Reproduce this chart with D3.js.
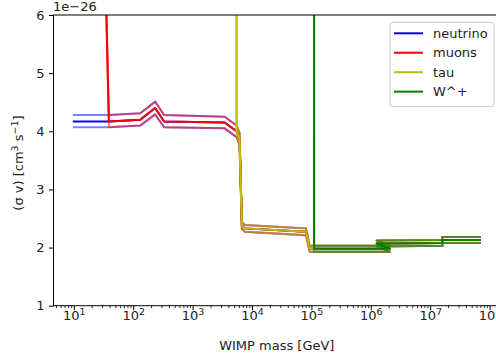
<!DOCTYPE html>
<html><head><meta charset="utf-8">
<script src="https://cdn.jsdelivr.net/npm/d3@7"></script>
<style>body{margin:0;background:#fff} svg{display:block} text{font-family:"DejaVu Sans",sans-serif;fill:#222}</style>
</head><body>
<svg id="c" width="496" height="360"></svg>
<script>
// shared relic cross-section curve (units of 1e-26 cm^3/s), mass in GeV
const massGeV      = [10,   39,   132,  234,  331,  3470, 5010, 5500, 6170, 6760, 7590, 81300, 93300, 111000, 1.26e6, 2.09e6, 1.26e6, 1.62e7, 1.58e7, 6.9e7];
const relicCentral = [4.17, 4.17, 4.20, 4.40, 4.17, 4.15, 4.03, 4.00, 3.87, 2.38, 2.33, 2.27,  1.98,  1.98,   1.98,   1.98,   2.07,   2.08,   2.13,   2.13];
const relicUpper   = [4.28, 4.28, 4.31, 4.51, 4.28, 4.25, 4.13, 4.10, 3.97, 2.44, 2.39, 2.33,  2.03,  2.03,   2.03,   2.03,   2.12,   2.13,   2.18,   2.18];
const relicLower   = [4.07, 4.07, 4.10, 4.29, 4.07, 4.05, 3.93, 3.90, 3.77, 2.32, 2.27, 2.21,  1.93,  1.93,   1.93,   1.93,   2.02,   2.03,   2.08,   2.08];

const channelNames      = ["neutrino", "muons", "tau", "W^+"];
const channelColors     = ["#0000ff", "#ff0000", "#bfbf00", "#008000"];
const channelStartIndex = [0, 1, 7, 13];
const channelSpikeMass  = [null, 28.5, 5430, 110000];
const channelSpikeValue = [null, 10, 60, 60];

const yTicks = [1, 2, 3, 4, 5, 6];
const xTickExponents = [1, 2, 3, 4, 5, 6, 7, 8];
const yOffsetLabel = "1e\u221226";
const xLabel = "WIMP mass [GeV]";

const svg = d3.select("#c");
const L = 53.5, R = 500.1, T = 15, B = 305.7;
const x = d3.scaleLog().domain([4.55, 1.503e8]).range([L, R]);
const y = d3.scaleLinear().domain([1, 6]).range([B, T]);

svg.append("clipPath").attr("id", "clip").append("rect")
  .attr("x", L).attr("y", T).attr("width", R - L).attr("height", B - T);
const plot = svg.append("g").attr("clip-path", "url(#clip)");

const line = d3.line().x(d => x(d[0])).y(d => y(d[1]));

channelNames.forEach((name, c) => {
  const build = vals => {
    const pts = [];
    if (channelSpikeMass[c] !== null) pts.push([channelSpikeMass[c], channelSpikeValue[c]]);
    for (let i = channelStartIndex[c]; i < massGeV.length; i++) pts.push([massGeV[i], vals[i]]);
    return pts;
  };
  plot.append("path").attr("d", line(build(relicCentral)))
    .attr("fill", "none").attr("stroke", channelColors[c]).attr("stroke-width", 2)
    .attr("stroke-linejoin", "round").attr("stroke-linecap", "square");
  [relicUpper, relicLower].forEach(b => {
    plot.append("path").attr("d", line(build(b)))
      .attr("fill", "none").attr("stroke", channelColors[c]).attr("stroke-width", 2)
      .attr("stroke-opacity", 0.5).attr("stroke-linejoin", "round").attr("stroke-linecap", "square");
  });
});

// axes frame
svg.append("rect").attr("x", L).attr("y", T).attr("width", R - L).attr("height", B - T)
  .attr("fill", "none").attr("stroke", "#000").attr("stroke-width", 1);

// x axis minor ticks
const minor = [];
for (let e = 0; e <= 8; e++) for (let k = 2; k <= 9; k++) {
  const v = k * Math.pow(10, e);
  if (v > x.domain()[0] && v < x.domain()[1]) minor.push(v);
}
const gxm = svg.append("g").attr("transform", `translate(0,${B})`)
  .call(d3.axisBottom(x).tickValues(minor).tickSize(2.5).tickFormat(""));
gxm.select(".domain").remove();
gxm.selectAll("line").attr("stroke", "#000").attr("stroke-width", 0.8);

const gx = svg.append("g").attr("transform", `translate(0,${B})`)
  .call(d3.axisBottom(x).tickValues(xTickExponents.map(e => Math.pow(10, e))).tickSize(4.5).tickFormat(""));
gx.select(".domain").remove();
gx.selectAll("line").attr("stroke", "#000").attr("stroke-width", 1);
gx.selectAll(".tick").each(function(d, i) {
  const t = d3.select(this).append("text").attr("y", 320.5 - B).attr("text-anchor", "middle")
    .attr("font-size", 13).attr("fill", "#222");
  t.append("tspan").text("10");
  t.append("tspan").attr("dy", -5).attr("font-size", 9.5).text(xTickExponents[i]);
});

// y axis
const gy = svg.append("g").attr("transform", `translate(${L},0)`)
  .call(d3.axisLeft(y).tickValues(yTicks).tickSize(4.5).tickPadding(4.5).tickFormat(d3.format("d")));
gy.select(".domain").remove();
gy.selectAll("line").attr("stroke", "#000").attr("stroke-width", 1);
gy.selectAll("text").attr("font-size", 13).attr("font-family", "DejaVu Sans").attr("fill", "#222");

svg.append("text").attr("x", 53).attr("y", 11).attr("font-size", 13).text(yOffsetLabel);

// axis labels
svg.append("text").attr("x", (L + R) / 2).attr("y", 349.5).attr("text-anchor", "middle")
  .attr("font-size", 13).text(xLabel);
const yl = svg.append("text").attr("transform", "translate(23,163) rotate(-90)")
  .attr("text-anchor", "middle").attr("font-size", 13);
yl.append("tspan").text("(\u03c3 v) [cm");
yl.append("tspan").attr("dy", -5).attr("font-size", 9.5).text("3");
yl.append("tspan").attr("dy", 5).text(" s");
yl.append("tspan").attr("dy", -5).attr("font-size", 9.5).text("\u22121");
yl.append("tspan").attr("dy", 5).text("]");

// legend
const lg = svg.append("g");
lg.append("rect").attr("x", 390).attr("y", 22.3).attr("width", 104).attr("height", 84.4)
  .attr("rx", 3).attr("fill", "#fff").attr("fill-opacity", 0.8).attr("stroke", "#ccc").attr("stroke-width", 1);
channelNames.forEach((name, i) => {
  const yy = 33.3 + i * 19.45;
  lg.append("line").attr("x1", 394).attr("x2", 423).attr("y1", yy).attr("y2", yy)
    .attr("stroke", channelColors[i]).attr("stroke-width", 2);
  lg.append("text").attr("x", 433).attr("y", yy).attr("dy", "0.35em").attr("font-size", 13).text(name);
});
</script>
</body></html>
